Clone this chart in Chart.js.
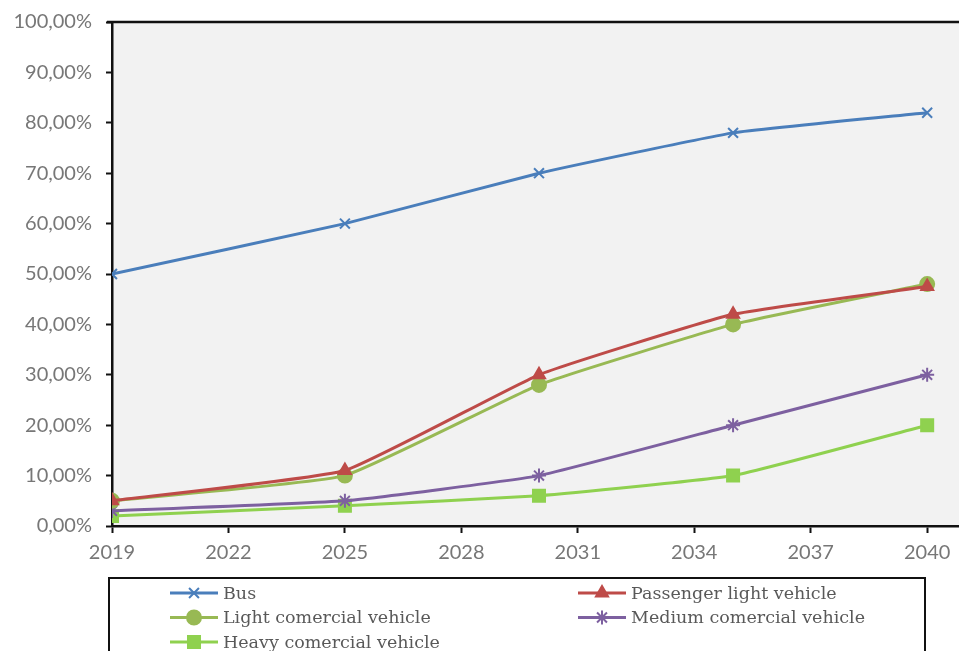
<!DOCTYPE html>
<html>
<head>
<meta charset="utf-8">
<style>
  html, body { margin: 0; padding: 0; background: #fff; overflow: hidden; }
  canvas { display: block; }
</style>
<script src="https://cdn.jsdelivr.net/npm/chart.js@4.4.1/dist/chart.umd.min.js"></script>
</head>
<body>
<canvas id="chart" width="959" height="651"></canvas>
<script>
// share of vehicles by year
var years = [2019, 2025, 2030, 2035, 2040];
var xTicks = [2019, 2022, 2025, 2028, 2031, 2034, 2037, 2040];

var busData = [50, 60, 70, 78, 82];
var passengerData = [5, 11, 30, 42, 47.5];
var lightData = [5, 10, 28, 40, 48];
var mediumData = [3, 5, 10, 20, 30];
var heavyData = [2, 4, 6, 10, 20];

var seriesNames = ['Bus', 'Passenger light vehicle', 'Light comercial vehicle', 'Medium comercial vehicle', 'Heavy comercial vehicle'];

function points(values) {
    return values.map(function (v, i) { return { x: years[i], y: v }; });
}

function series(label, values, color, style, radius) {
    return {
        label: label,
        data: points(values),
        borderColor: color,
        backgroundColor: color,
        borderWidth: 3,
        pointStyle: style,
        pointRadius: radius,
        pointBorderWidth: 2,
        pointBorderColor: color,
        pointBackgroundColor: color,
        tension: 0.12
    };
}

var tickFont = { family: 'Lato', size: 20 };
var tickColor = '#777777';

// grey plot background + top border line
var plotFrame = {
    id: 'plotFrame',
    beforeDraw: function (chart) {
        var a = chart.chartArea, ctx = chart.ctx;
        ctx.save();
        ctx.fillStyle = '#f2f2f2';
        ctx.fillRect(a.left, a.top, a.right - a.left, a.bottom - a.top);
        ctx.restore();
    },
    afterDraw: function (chart) {
        var a = chart.chartArea, ctx = chart.ctx;
        ctx.save();
        ctx.strokeStyle = '#111';
        ctx.lineWidth = 2.5;
        ctx.beginPath();
        ctx.moveTo(a.left - 5, a.top);
        ctx.lineTo(a.right, a.top);
        ctx.stroke();
        ctx.restore();
    }
};

// boxed two-column legend below the plot
var boxLegend = {
    id: 'boxLegend',
    afterDraw: function (chart) {
        var ctx = chart.ctx;
        ctx.save();
        ctx.strokeStyle = '#111';
        ctx.lineWidth = 2;
        ctx.strokeRect(109, 578, 816, 100);

        var cols = [170, 578];
        ctx.font = '17.5px "DejaVu Serif"';
        ctx.textBaseline = 'middle';
        ctx.textAlign = 'left';
        chart.data.datasets.forEach(function (ds, i) {
            var x = cols[i % 2];
            var y = 593 + Math.floor(i / 2) * 24.5;
            ctx.strokeStyle = ds.borderColor;
            ctx.fillStyle = ds.borderColor;
            ctx.lineWidth = 3;
            ctx.beginPath();
            ctx.moveTo(x, y);
            ctx.lineTo(x + 48, y);
            ctx.stroke();
            ctx.lineWidth = 2;
            Chart.helpers.drawPoint(ctx, {
                pointStyle: ds.pointStyle,
                radius: ds.pointRadius,
                rotation: 0,
                borderWidth: 2
            }, x + 24, y);
            ctx.fillStyle = '#595959';
            ctx.fillText(ds.label, x + 53, y + 1);
        });
        ctx.restore();
    }
};

new Chart(document.getElementById('chart').getContext('2d'), {
    type: 'line',
    data: {
        datasets: [
            series(seriesNames[0], busData, '#4a7ebb', 'crossRot', 7),
            series(seriesNames[1], passengerData, '#be4b48', 'triangle', 7),
            series(seriesNames[2], lightData, '#98b954', 'circle', 7),
            series(seriesNames[3], mediumData, '#7d60a0', 'star', 7),
            series(seriesNames[4], heavyData, '#8fd14f', 'rect', 8.5)
        ]
    },
    options: {
        responsive: false,
        animation: false,
        layout: { autoPadding: false, padding: { top: 22, right: 0, left: 0, bottom: 0 } },
        plugins: {
            legend: { display: false },
            tooltip: { enabled: false }
        },
        scales: {
            x: {
                type: 'linear',
                min: 2019,
                max: 2040.82,
                afterBuildTicks: function (scale) {
                    scale.ticks = xTicks.map(function (v) { return { value: v }; });
                },
                afterFit: function (scale) {
                    scale.height = 125;
                    scale.paddingRight = 0;
                    scale.paddingLeft = 0;
                },
                border: { color: '#111', width: 2.5 },
                grid: {
                    drawOnChartArea: false,
                    drawTicks: true,
                    tickLength: 7,
                    tickColor: '#111',
                    tickWidth: 2
                },
                ticks: {
                    font: tickFont,
                    color: tickColor,
                    padding: 8,
                    maxRotation: 0,
                    autoSkip: false,
                    callback: function (v) { return String(v); }
                }
            },
            y: {
                min: 0,
                max: 100,
                afterFit: function (scale) {
                    scale.width = 112;
                    scale.paddingTop = 0;
                    scale.paddingBottom = 0;
                },
                border: { color: '#111', width: 2.5 },
                grid: {
                    drawOnChartArea: false,
                    drawTicks: true,
                    tickLength: 6,
                    tickColor: '#111',
                    tickWidth: 2
                },
                ticks: {
                    stepSize: 10,
                    font: tickFont,
                    color: tickColor,
                    padding: 14,
                    callback: function (v) { return v.toFixed(2).replace('.', ',') + '%'; }
                }
            }
        }
    },
    plugins: [plotFrame, boxLegend]
});
</script>
</body>
</html>
